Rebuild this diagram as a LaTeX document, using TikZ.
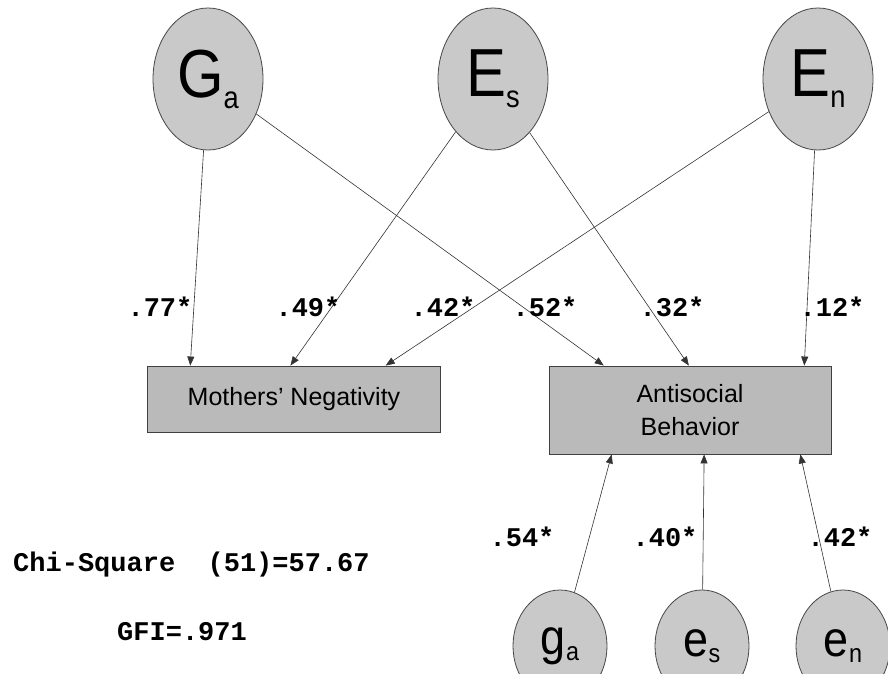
\documentclass[tikz,border=0pt]{standalone}
\usepackage{fontspec}
\setmainfont{Liberation Sans}
\newfontfamily\codefont{Liberation Mono}
\usetikzlibrary{shapes.geometric,arrows.meta,calc}

% latent variable labels: large letter with a lowered subscript
\newcommand{\biglat}[2]{\scalebox{0.88}[1]{\fontsize{68}{68}\selectfont #1}\raisebox{-11pt}{\scalebox{0.88}[1]{\fontsize{31}{31}\selectfont #2}}}
\newcommand{\smalllat}[2]{\scalebox{0.9}[1]{\fontsize{50}{50}\selectfont #1}\raisebox{-6pt}{\scalebox{0.9}[1]{\fontsize{26}{26}\selectfont #2}}}

\begin{document}
\begin{tikzpicture}[x=1pt,y=-1pt,
  latent/.style={ellipse, draw=black!72, fill=black!21, line width=0.8pt,
    minimum width=110pt, minimum height=142pt, inner sep=0pt},
  resid/.style={ellipse, draw=black!72, fill=black!21, line width=0.8pt,
    minimum width=94pt, minimum height=112pt, inner sep=0pt},
  measure/.style={rectangle, draw=black!75, fill=black!27, line width=0.9pt,
    inner sep=0pt, font=\fontsize{25}{33}\selectfont, align=center},
  pathline/.style={draw=black!80, line width=0.6pt,
    -{Triangle[length=9pt,width=7pt]}},
  coef/.style={font=\codefont\bfseries\fontsize{27}{29}\selectfont, inner sep=0pt},
  fitstat/.style={font=\codefont\bfseries\fontsize{27}{29}\selectfont, inner sep=0pt, anchor=west}
]
\useasboundingbox (0,0) rectangle (888,674);
\clip (0,0) rectangle (888,674);
\fill[white] (0,0) rectangle (888,674);

% latent factors
\node[latent] (Ga) at (208,79) {\biglat{G}{a}};
\node[latent] (Es) at (493,79) {\biglat{E}{s}};
\node[latent] (En) at (818,79) {\biglat{E}{n}};

% measured variables
\node[measure, minimum width=293pt, minimum height=66pt] (MN) at (294,399) {Mothers' Negativity};
\node[measure, minimum width=282pt, minimum height=88pt] (AB) at (690,410) {Antisocial\\Behavior};

% specific factors
\node[resid] (ga) at (560,646) {\smalllat{g}{a}};
\node[resid] (es) at (702,646) {\smalllat{e}{s}};
\node[resid] (en) at (843,646) {\smalllat{e}{n}};

% paths into mothers' negativity
\draw[pathline] (Ga) -- ($(MN.north west)!0.147!(MN.north east)$);
\draw[pathline] (Es) -- ($(MN.north west)!0.488!(MN.north east)$);
\draw[pathline] (En) -- ($(MN.north west)!0.812!(MN.north east)$);

% paths into antisocial behavior
\draw[pathline] (Ga) -- ($(AB.north west)!0.195!(AB.north east)$);
\draw[pathline] (Es) -- ($(AB.north west)!0.496!(AB.north east)$);
\draw[pathline] (En) -- ($(AB.north west)!0.904!(AB.north east)$);

\draw[pathline] (ga) -- ($(AB.south west)!0.223!(AB.south east)$);
\draw[pathline] (es) -- ($(AB.south west)!0.550!(AB.south east)$);
\draw[pathline] (en) -- ($(AB.south west)!0.890!(AB.south east)$);

% coefficients
\node[coef] (c1) at (160,307) {.77*};
\node[coef] (c2) at (308,307) {.49*};
\node[coef] (c3) at (443,307) {.42*};
\node[coef] (c4) at (545,307) {.52*};
\node[coef] (c5) at (672,307) {.32*};
\node[coef] (c6) at (832,307) {.12*};
\node[coef] (c7) at (522,537) {.54*};
\node[coef] (c8) at (665,537) {.40*};
\node[coef] (c9) at (840,537) {.42*};

% fit statistics
\node[fitstat] (chi) at (13,565) {Chi-Square\ \ (51)=57.67};
\node[fitstat] (gfi) at (117,632) {GFI=.971};
\end{tikzpicture}
\end{document}
